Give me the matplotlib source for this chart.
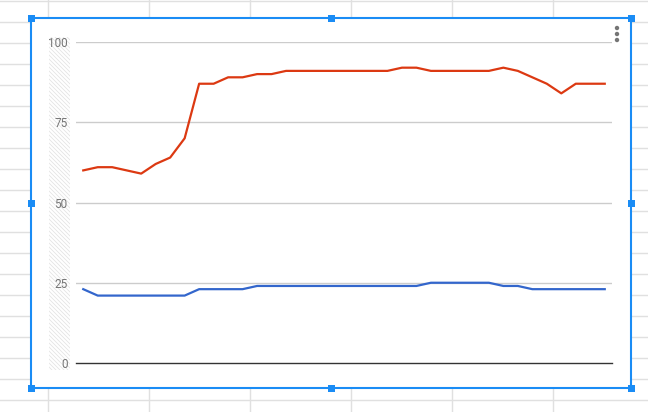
import matplotlib
matplotlib.use("Agg")
import matplotlib.pyplot as plt
from matplotlib.patches import Rectangle, Circle
import numpy as np

plt.rcParams['font.family'] = ['Roboto', 'DejaVu Sans']

# ---- data ----
series_blue = [23, 21, 21, 21, 21, 21, 21, 21, 23, 23, 23, 23,
               24, 24, 24, 24, 24, 24, 24, 24, 24, 24, 24, 24,
               25, 25, 25, 25, 25, 24, 24, 23, 23, 23, 23, 23, 23]
series_red = [60, 61, 61, 60, 59, 62, 64, 70, 87, 87, 89, 89,
              90, 90, 91, 91, 91, 91, 91, 91, 91, 91, 92, 92,
              91, 91, 91, 91, 91, 92, 91, 89, 87, 84, 87, 87, 87]
y_ticks = [0, 25, 50, 75, 100]
y_tick_labels = ["0", "25", "50", "75", "100"]

W, H = 648, 412
fig = plt.figure(figsize=(W / 100, H / 100), dpi=100)

# ---- background (spreadsheet) ----
bg = fig.add_axes([0, 0, 1, 1])
bg.set_xlim(0, W)
bg.set_ylim(H, 0)
bg.axis('off')
grid_c = '#e0e0e0'
for y in range(0, H, 21):
    bg.plot([0, W], [y + 0.5, y + 0.5], color=grid_c, lw=1.0, zorder=1)
for x in [47, 148, 249, 350, 451, 552]:
    bg.plot([x + 0.5, x + 0.5], [0, H], color=grid_c, lw=1.0, zorder=1)

# chart area
cx0, cy0, cx1, cy1 = 31, 18, 631, 388
bg.add_patch(Rectangle((cx0, cy0), cx1 - cx0, cy1 - cy0, facecolor='white',
                       edgecolor='none', zorder=2))

# hatched strip behind y labels
hx0, hx1, hy0, hy1 = 49, 70, 37, 370
clip = Rectangle((hx0, hy0), hx1 - hx0, hy1 - hy0, transform=bg.transData,
                 facecolor='none', edgecolor='none')
bg.add_patch(clip)
for s in np.arange(hy0 - (hx1 - hx0) - 5, hy1 + 5, 4):
    ln, = bg.plot([hx0, hx1], [s, s + (hx1 - hx0)], color='#e4e4e4', lw=0.6,
                  zorder=3)
    ln.set_clip_path(clip)

# three dots menu
for yd in [28, 34, 40]:
    bg.add_patch(Circle((617, yd), 1.5, color='#757575', zorder=4))

# blue selection frame and handles
blue = '#1a8cf5'
bg.add_patch(Rectangle((cx0, cy0), cx1 - cx0, cy1 - cy0, facecolor='none',
                       edgecolor=blue, lw=1.5, zorder=5))
for hx in [cx0, (cx0 + cx1) / 2, cx1]:
    for hy in [cy0, (cy0 + cy1) / 2, cy1]:
        if hx == (cx0 + cx1) / 2 and hy == (cy0 + cy1) / 2:
            continue
        bg.add_patch(Rectangle((hx - 3.5, hy - 3.5), 7, 7, facecolor=blue,
                               edgecolor='none', zorder=6))

# ---- plot area ----
px0, px1 = 76, 612
py_top, py_bot = 42, 363
ax = fig.add_axes([px0 / W, (H - py_bot) / H, (px1 - px0) / W, (py_bot - py_top) / H])
ax.patch.set_alpha(0)
x = np.arange(len(series_red))
ax.set_xlim(-0.5, len(x) - 0.5)
ax.set_ylim(0, 100)
for t in y_ticks[1:]:
    ax.axhline(t, color='#cccccc', lw=1.0, zorder=1)
ax.axhline(0, color='#333333', lw=1.0, zorder=1, clip_on=False)
ax.plot(x, series_blue, color='#3366cc', lw=1.6, zorder=3, solid_joinstyle='round')
ax.plot(x, series_red, color='#dc3912', lw=1.6, zorder=3, solid_joinstyle='round')
for s in ax.spines.values():
    s.set_visible(False)
ax.set_xticks([])
ax.set_yticks(y_ticks)
ax.set_yticklabels(y_tick_labels)
ax.tick_params(axis='y', length=0, pad=6, labelsize=8.5, labelcolor='#757575')

fig.savefig('out.png', dpi=100)
